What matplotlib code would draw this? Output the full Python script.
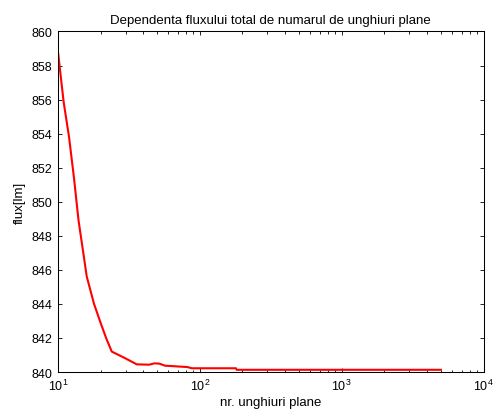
import matplotlib
matplotlib.use('Agg')
import matplotlib.pyplot as plt
import numpy as np

# numar de unghiuri plane si fluxul total rezultat
nr_unghiuri = [10, 11, 12, 13, 14, 16, 18, 20, 22, 24, 30, 36, 44, 48, 52,
               57, 63, 82, 88, 180, 182, 5000]
flux = [858.9, 855.85, 853.8, 851.4, 848.9, 845.6, 844.0, 842.9, 841.95, 841.2,
        840.8, 840.45, 840.43, 840.51, 840.49, 840.37, 840.35, 840.29, 840.22,
        840.22, 840.13, 840.13]

y_ticks = np.arange(840, 861, 2)

plt.rcParams['font.family'] = ['Liberation Sans', 'DejaVu Sans']

fig = plt.figure(figsize=(4.94, 4.14), dpi=100)
ax = fig.add_axes([0.117, 0.099, 0.862, 0.8225])

ax.plot(nr_unghiuri, flux, color='red', lw=1.5)
ax.set_xscale('log')
ax.set_xlim(10, 1e4)
ax.set_ylim(840, 860)
ax.set_yticks(y_ticks)

ax.tick_params(which='both', direction='in', top=True, right=True, labelsize=9)
ax.tick_params(which='major', length=3.2, width=0.6, pad=4)
ax.tick_params(which='minor', length=1.8, width=0.6)
for s in ax.spines.values():
    s.set_linewidth(0.75)

ax.set_title('Dependenta fluxului total de numarul de unghiuri plane', fontsize=9.5, pad=6)
ax.set_xlabel('nr. unghiuri plane', fontsize=9.5, labelpad=2)
ax.set_ylabel('flux[lm]', fontsize=9.5, labelpad=4)

fig.savefig('out.png', dpi=100)
